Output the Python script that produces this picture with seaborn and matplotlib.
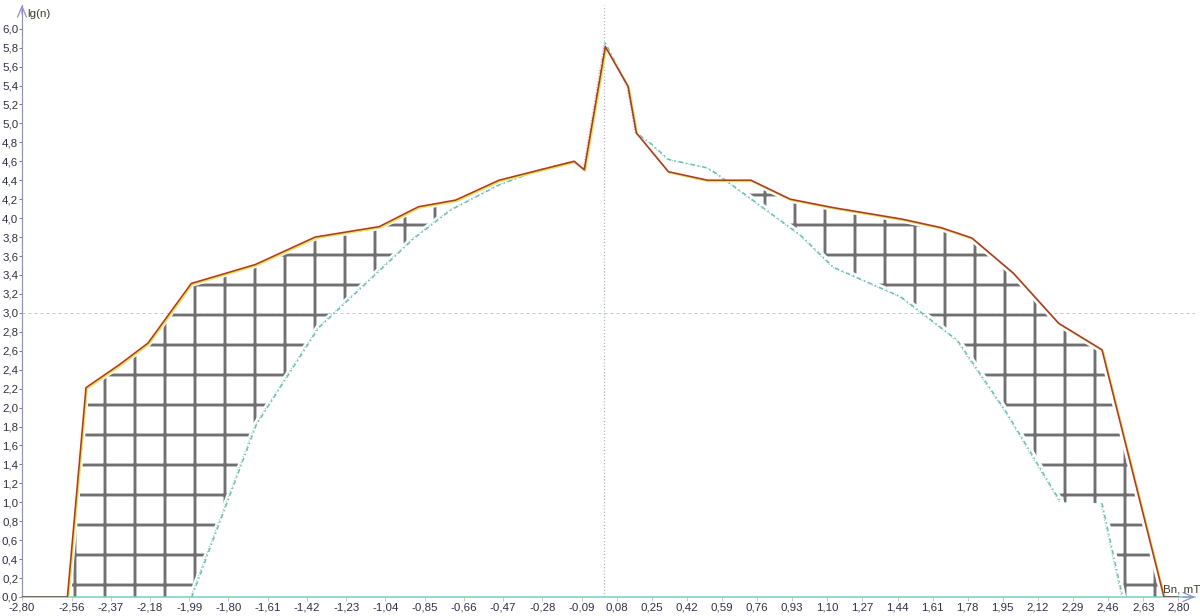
import numpy as np
import pandas as pd
import matplotlib
matplotlib.use("Agg")
import matplotlib.pyplot as plt
from matplotlib import transforms
import seaborn as sns

# ---------------- data ----------------
upper_x = [-2.80, -2.58, -2.49, -2.33, -2.19, -1.98, -1.67, -1.38, -1.07, -0.88,
           -0.70, -0.49, -0.29, -0.126, -0.077, 0.025, 0.135, 0.175, 0.33, 0.52,
           0.73, 0.92, 1.13, 1.46, 1.65, 1.80, 2.00, 2.22, 2.43, 2.73, 2.80]
upper_y = [0.00, 0.00, 2.21, 2.45, 2.68, 3.31, 3.51, 3.80, 3.91, 4.12,
           4.19, 4.40, 4.51, 4.60, 4.51, 5.81, 5.39, 4.90, 4.49, 4.40,
           4.40, 4.20, 4.11, 3.99, 3.90, 3.79, 3.42, 2.89, 2.61, 0.00, 0.00]

lower_x = [-1.978, -1.665, -1.364, -0.90, -0.72, -0.49, -0.29, -0.126, -0.077, 0.025,
           0.135, 0.175, 0.25, 0.33, 0.52, 0.57, 0.97, 1.13, 1.455, 1.73,
           1.97, 2.23, 2.43, 2.53]
lower_y = [0.00, 1.82, 2.84, 3.79, 4.09, 4.35, 4.51, 4.60, 4.51, 5.85,
           5.39, 4.90, 4.78, 4.62, 4.53, 4.46, 3.82, 3.48, 3.17, 2.71,
           1.94, 1.00, 0.99, 0.00]
lower_seg = [1] * 22 + [2] * 2

xtick_vals = [-2.80, -2.56, -2.37, -2.18, -1.99, -1.80, -1.61, -1.42, -1.23, -1.04,
              -0.85, -0.66, -0.47, -0.28, -0.09, 0.08, 0.25, 0.42, 0.59, 0.76,
              0.93, 1.10, 1.27, 1.44, 1.61, 1.78, 1.95, 2.12, 2.29, 2.46, 2.63, 2.80]
ytick_vals = [round(0.2 * i, 1) for i in range(31)]

mode_x = 0.02
ref_y = 3.0
x_label = "Bn, mT"
y_label = "lg(n)"

# ---------------- style ----------------
sns.set_theme(style="white")
plt.rcParams["font.family"] = ["Liberation Sans", "DejaVu Sans"]
plt.rcParams["hatch.linewidth"] = 1.15
plt.rcParams["hatch.color"] = "#707070"

DPI = 180
W, H = 1200, 616
fig = plt.figure(figsize=(W / DPI, H / DPI), dpi=DPI, facecolor="white")
ax = fig.add_axes([22 / W, 19 / H, 1173 / W, 592 / H])
ax.set_facecolor("white")

df_up = pd.DataFrame({"x": upper_x, "y": upper_y})
df_lo = pd.DataFrame({"x": lower_x, "y": lower_y, "seg": lower_seg})

# hatched area between the two curves
xg = np.union1d(np.linspace(-2.80, 2.80, 3000), np.union1d(upper_x, lower_x))
up_g = np.interp(xg, upper_x, upper_y)
lo_g = np.interp(xg, lower_x, lower_y, left=0.0, right=0.0)
ax.fill_between(xg, lo_g, up_g, where=(up_g - lo_g) > 0.01, interpolate=True,
                facecolor="none", edgecolor="#707070", linewidth=0, hatch="+",
                zorder=1)

# white halos around curves (hatch stops short of the lines)
sns.lineplot(data=df_up, x="x", y="y", sort=False, estimator=None, color="white",
             lw=2.8, ax=ax, zorder=2, legend=False)
sns.lineplot(data=df_lo, x="x", y="y", units="seg", sort=False, estimator=None,
             color="white", lw=2.8, ax=ax, zorder=2, legend=False)

# reference lines
ax.axhline(ref_y, color="#c2cbc4", lw=0.4, ls=(0, (3, 3)), zorder=2.5)
ax.axvline(mode_x, color="#a9bfd2", lw=0.5, ls=(0, (1, 1.6)), zorder=2.5)

# lower curve: gray dotted companion + teal dashed
off_lo = transforms.offset_copy(ax.transData, fig=fig, x=-1.2, y=0.0, units="dots")
sns.lineplot(data=df_lo, x="x", y="y", units="seg", sort=False, estimator=None,
             color="#bdbdbd", lw=0.45, ls=(0, (1, 1.5)), ax=ax, zorder=3,
             transform=off_lo, legend=False)
sns.lineplot(data=df_lo, x="x", y="y", units="seg", sort=False, estimator=None,
             color="#5cc6b6", lw=0.6, ls=(0, (3, 2, 1, 2)), ax=ax, zorder=3.2,
             legend=False)

# upper curve: yellow companion + dark red
off_up = transforms.offset_copy(ax.transData, fig=fig, x=1.2, y=-1.2, units="dots")
sns.lineplot(data=df_up, x="x", y="y", sort=False, estimator=None,
             color="#f2e444", lw=0.7, ax=ax, zorder=3.4, transform=off_up,
             legend=False)
sns.lineplot(data=df_up, x="x", y="y", sort=False, estimator=None,
             color="#a83a3a", lw=0.65, ax=ax, zorder=3.6, legend=False)

# axes, ticks
ax.set_xlim(-2.80, -2.80 + 1173 / 206.5)
ax.set_ylim(0, 6.25)
ax.set_xlabel("")
ax.set_ylabel("")
ax.set_xticks(xtick_vals)
ax.set_xticklabels([f"{v:.2f}".replace(".", ",") for v in xtick_vals])
ax.set_yticks(ytick_vals)
ax.set_yticklabels([f"{v:.1f}".replace(".", ",") for v in ytick_vals])
ax.tick_params(axis="x", bottom=True, direction="out", length=1.6, width=0.4,
               color="#cfcfa0", pad=0.6, labelsize=4.6, labelcolor="#30304a")
ax.tick_params(axis="y", left=True, direction="out", length=1.2, width=0.4,
               color="#7a7a8a", pad=0.3, labelsize=4.6, labelcolor="#30304a")
for s in ("top", "right"):
    ax.spines[s].set_visible(False)
ax.spines["left"].set_color("#9090d0")
ax.spines["left"].set_linewidth(0.5)
ax.spines["bottom"].set_color("#72cfc0")
ax.spines["bottom"].set_linewidth(0.6)
ax.grid(False)

# axis arrows
ax.annotate("", xy=(0, 1.0), xycoords="axes fraction", xytext=(0, 0.985),
            arrowprops=dict(arrowstyle="->,head_length=0.35,head_width=0.15",
                            color="#9090d0", lw=0.5, shrinkA=0, shrinkB=0),
            annotation_clip=False)
ax.annotate("", xy=(1.0, 0), xycoords="axes fraction", xytext=(0.99, 0),
            arrowprops=dict(arrowstyle="->,head_length=0.35,head_width=0.15",
                            color="#9090d0", lw=0.5, shrinkA=0, shrinkB=0),
            annotation_clip=False)

fig.text(27 / W, 1 - 14 / H, y_label, ha="left", va="center", fontsize=4.6,
         color="#3c3c30")
fig.text(1163 / W, 1 - 590 / H, x_label, ha="left", va="center", fontsize=4.6,
         color="#3c3c30")

fig.savefig("out.png", dpi=DPI, facecolor="white")
